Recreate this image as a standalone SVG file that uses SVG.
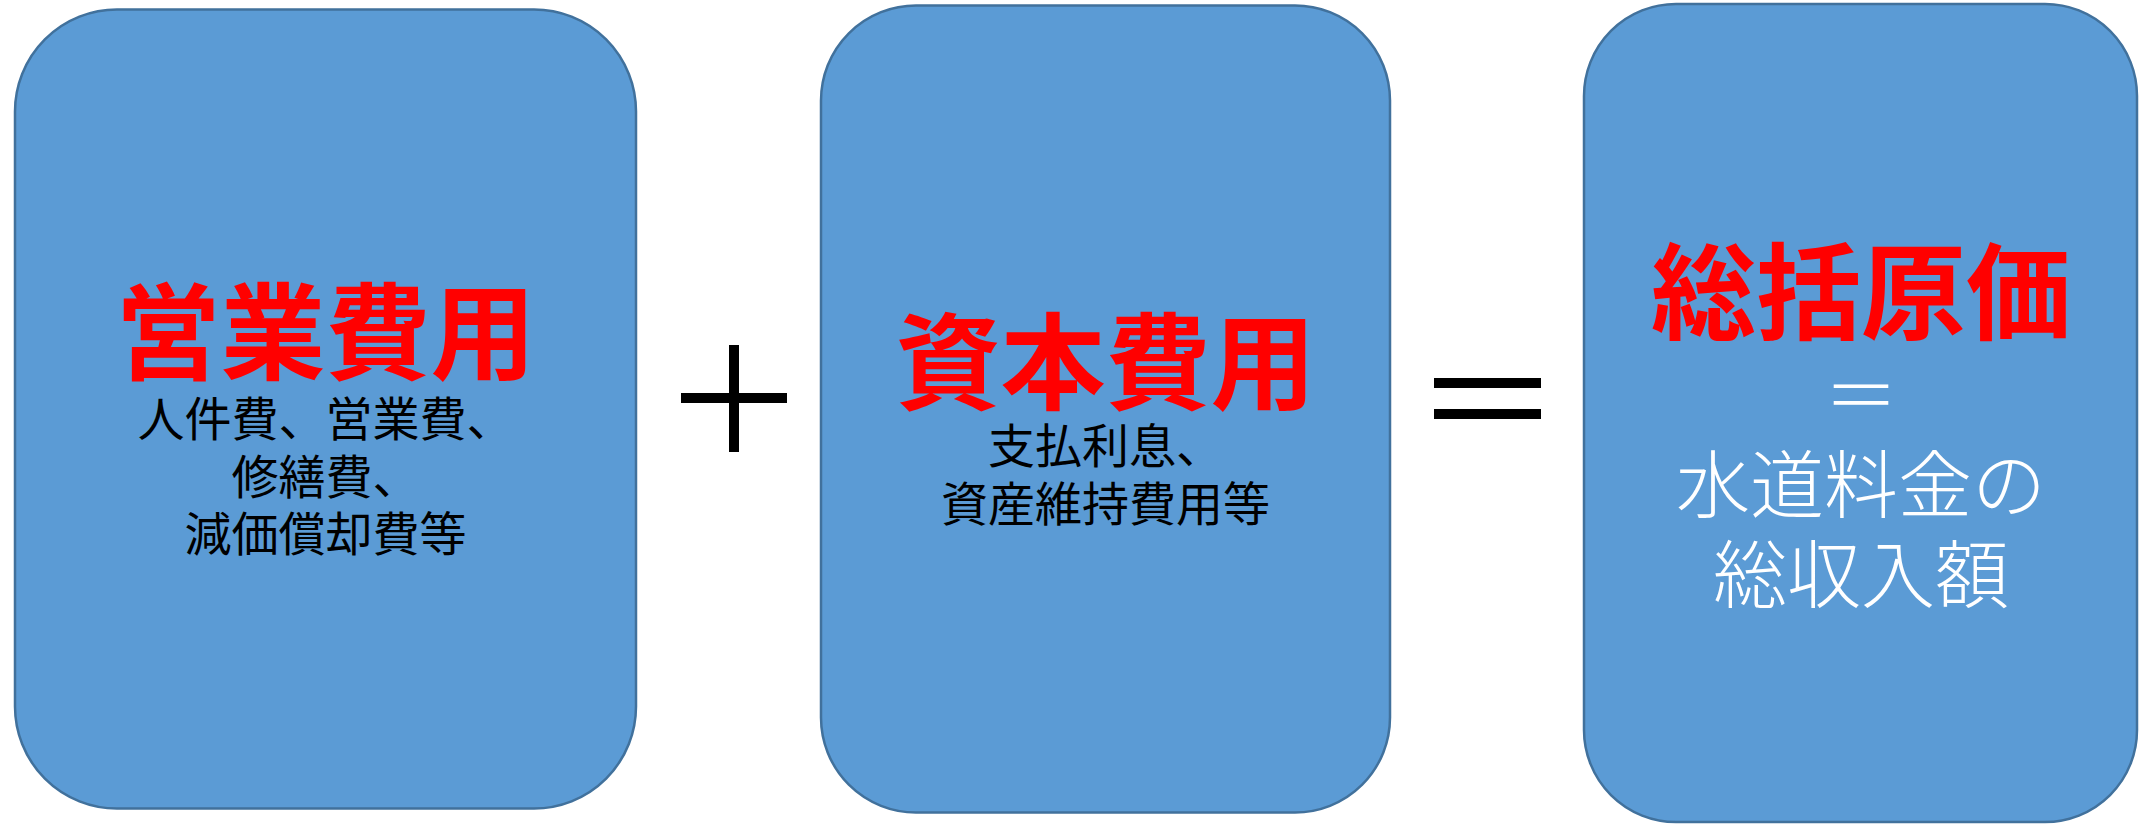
<svg xmlns="http://www.w3.org/2000/svg" width="2141" height="824" viewBox="0 0 2141 824">
<style>
.box{fill:#5B9BD5;stroke:#41719C;stroke-width:2.5}
.title{font-family:"Noto Sans CJK JP","Noto Sans CJK SC",sans-serif;font-weight:700;font-size:105px;fill:#FF0000;text-anchor:middle}
.sub{font-family:"Noto Sans CJK JP","Noto Sans CJK SC",sans-serif;font-weight:400;font-size:47px;fill:#000000;text-anchor:middle}
.wsub{font-family:"Noto Sans CJK JP","Noto Sans CJK SC",sans-serif;font-weight:300;font-size:74px;fill:#FFFFFF;text-anchor:middle}
.op{fill:#000000}
</style>
<rect width="2141" height="824" fill="#FFFFFF"/>
<g id="node-operating-cost">
<rect class="box" x="15" y="9.5" width="621" height="799" rx="102" ry="102"/>
<text class="title" x="325.5" y="371">営業費用</text>
<text class="sub" x="325.5" y="436">人件費、営業費、</text>
<text class="sub" x="325.5" y="494">修繕費、</text>
<text class="sub" x="325.5" y="551">減価償却費等</text>
</g>
<g id="node-capital-cost">
<rect class="box" x="821" y="5.5" width="569" height="807" rx="95" ry="95"/>
<text class="title" x="1105.5" y="401">資本費用</text>
<text class="sub" x="1105.5" y="463">支払利息、</text>
<text class="sub" x="1105.5" y="521">資産維持費用等</text>
</g>
<g id="node-total-cost">
<rect class="box" x="1584" y="4" width="553" height="818" rx="92" ry="92"/>
<text class="title" x="1861" y="331">総括原価</text>
<text class="wsub" x="1861" y="422">＝</text>
<text class="wsub" x="1861" y="512">水道料金の</text>
<text class="wsub" x="1861" y="602">総収入額</text>
</g>
<g id="connectors">
<g id="op-plus">
<rect class="op" x="681" y="393" width="106" height="10"/>
<rect class="op" x="729" y="345" width="10" height="107"/>
</g>
<g id="op-equals">
<rect class="op" x="1434" y="378" width="107" height="10"/>
<rect class="op" x="1434" y="409" width="107" height="10"/>
</g>
</g>
</svg>
